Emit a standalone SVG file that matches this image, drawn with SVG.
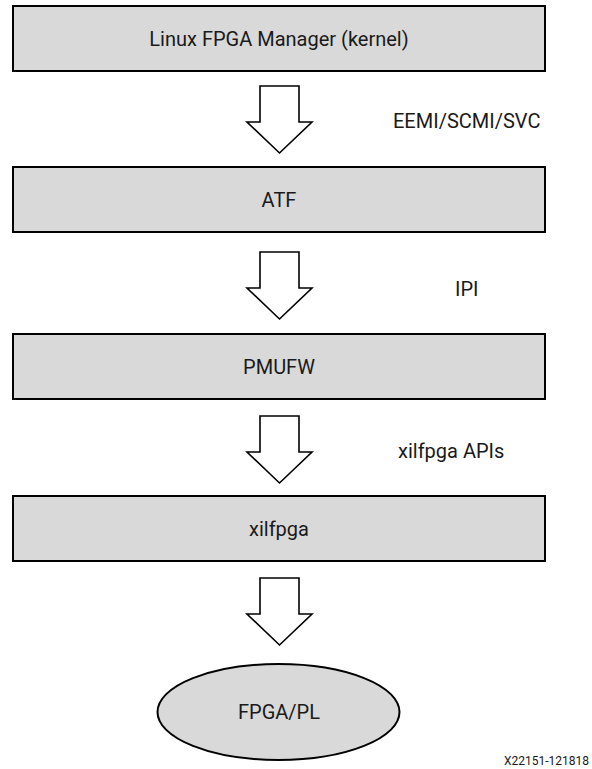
<svg xmlns="http://www.w3.org/2000/svg" width="592" height="769" viewBox="0 0 592 769">
<style>
.box{fill:#d9d9d9;stroke:#000;stroke-width:2}
.arr{fill:#fff;stroke:#000;stroke-width:1.6;stroke-linejoin:miter}
.t{font-family:Roboto,"Liberation Sans",sans-serif;font-size:20px;fill:#1a1a1a}
.c{text-anchor:middle}
.f{font-family:Roboto,"Liberation Sans",sans-serif;font-size:12px;fill:#1a1a1a;text-anchor:end}
</style>
<defs>
<polygon id="bigArrow" points="-19.5,0 19.5,0 19.5,36 32.5,36 0,67 -32.5,36 -19.5,36"/>
</defs>
<rect width="592" height="769" fill="#fff"/>
<g id="node-linux"><rect class="box" x="13" y="6" width="532" height="65"/><text class="t c" x="279" y="46">Linux FPGA Manager (kernel)</text></g>
<g id="node-atf"><rect class="box" x="13" y="167" width="532" height="65"/><text class="t c" x="279" y="207">ATF</text></g>
<g id="node-pmufw"><rect class="box" x="13" y="334" width="532" height="65"/><text class="t c" x="279" y="374">PMUFW</text></g>
<g id="node-xilfpga"><rect class="box" x="13" y="496" width="532" height="65"/><text class="t c" x="279" y="536">xilfpga</text></g>
<g id="node-fpga"><ellipse class="box" cx="278.5" cy="712" rx="121" ry="48"/><text class="t c" x="279" y="719">FPGA/PL</text></g>
<g id="connectors">
<use href="#bigArrow" class="arr" transform="translate(279.5,86)"/>
<use href="#bigArrow" class="arr" transform="translate(279.5,252)"/>
<use href="#bigArrow" class="arr" transform="translate(279.5,416)"/>
<use href="#bigArrow" class="arr" transform="translate(279.5,578)"/>
<text class="t" x="393" y="128">EEMI/SCMI/SVC</text>
<text class="t" x="455" y="296">IPI</text>
<text class="t" x="398" y="458">xilfpga APIs</text>
</g>
<text class="f" x="589" y="765">X22151-121818</text>
</svg>
